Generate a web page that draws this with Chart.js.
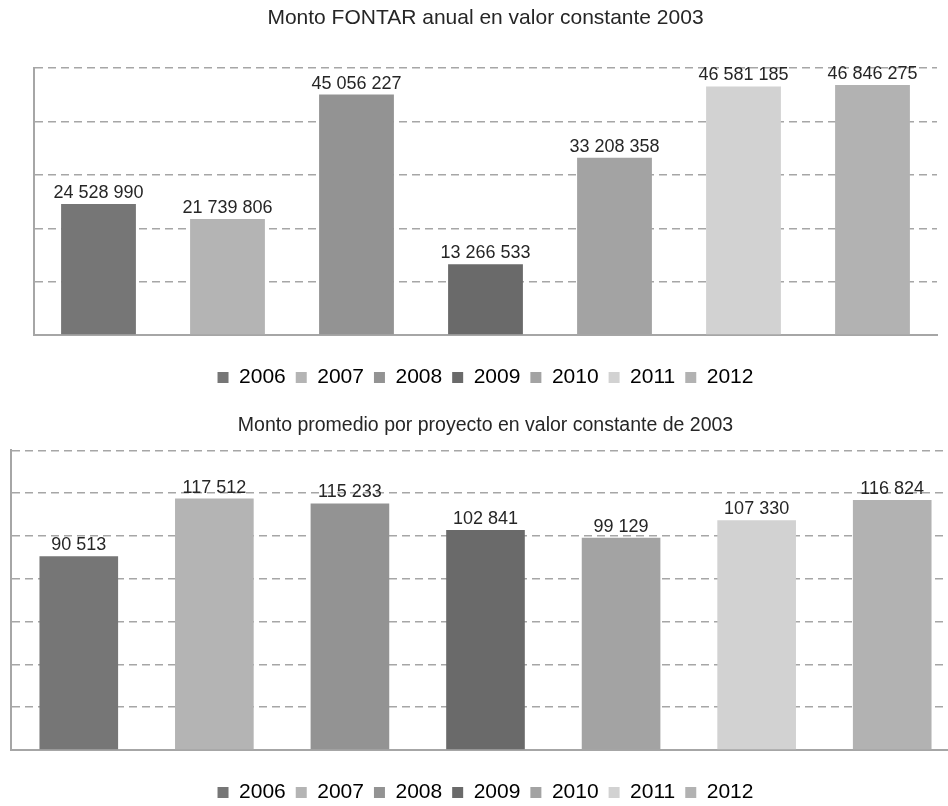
<!DOCTYPE html>
<html>
<head>
<meta charset="utf-8">
<script src="https://cdn.jsdelivr.net/npm/chart.js@4.4.0/dist/chart.umd.min.js"></script>
<style>
    body { margin: 0; background: #fff; overflow: hidden; width: 948px; height: 806px; position: relative; }
    #box-anual { position: absolute; left: 0; top: 0; }
    #box-promedio { position: absolute; left: 0; top: 400px; }
</style>
</head>
<body>
<div id="box-anual"><canvas id="anual-chart" width="948" height="398"></canvas></div>
<div id="box-promedio"><canvas id="promedio-chart" width="960" height="413"></canvas></div>
<script>
// 年份
const years = ['2006', '2007', '2008', '2009', '2010', '2011', '2012'];
// 每年颜色
const barColors = ['#767676', '#b4b4b4', '#939393', '#6a6a6a', '#a3a3a3', '#d2d2d2', '#b2b2b2'];
// 年度金额
const montoAnual = [24528990, 21739806, 45056227, 13266533, 33208358, 46581185, 46846275];
// 项目平均金额
const montoPromedio = [90513, 117512, 115233, 102841, 99129, 107330, 116824];
// 刻度
const anualTicks = [0, 10000000, 20000000, 30000000, 40000000, 50000000];
const promedioTicks = [0, 20000, 40000, 60000, 80000, 100000, 120000, 140000];

const FONT = '"Liberation Sans", Arial, sans-serif';
const GRAY = '#a6a6a6';

// 千位用空格分隔
function formatNumber(v) {
    return String(v).replace(/\B(?=(\d{3})+(?!\d))/g, ' ');
}

// 柱顶数值标签
const barLabelPlugin = {
    id: 'barLabels',
    afterDatasetsDraw(chart) {
        const ctx = chart.ctx;
        const data = chart.data.datasets[0].data;
        ctx.save();
        ctx.font = '18px ' + FONT;
        ctx.fillStyle = '#262626';
        ctx.textAlign = 'center';
        ctx.textBaseline = 'alphabetic';
        chart.getDatasetMeta(0).data.forEach((bar, i) => {
            ctx.fillText(formatNumber(data[i]), bar.x, bar.y - 6);
        });
        ctx.restore();
    }
};

// 渲染柱状图
function renderBarChart(canvasId, values, ticks, titleText, opt) {
    const ctx = document.getElementById(canvasId).getContext('2d');
    new Chart(ctx, {
        type: 'bar',
        data: {
            labels: years,
            datasets: [{
                data: values,
                backgroundColor: barColors,
                borderWidth: 0,
                barPercentage: 0.58,
                categoryPercentage: 1
            }]
        },
        options: {
            responsive: false,
            animation: false,
            devicePixelRatio: 1,
            layout: {
                padding: { left: opt.padLeft, right: opt.padRight, top: 0, bottom: 0 }
            },
            scales: {
                x: {
                    ticks: { display: false },
                    grid: { color: 'transparent', drawTicks: true, tickLength: 22 },
                    border: { display: true, color: GRAY, width: 2 }
                },
                y: {
                    min: ticks[0],
                    max: ticks[ticks.length - 1],
                    ticks: { display: false, stepSize: ticks[1] - ticks[0] },
                    grid: { color: GRAY, lineWidth: 1.5, drawTicks: false },
                    border: { display: true, color: GRAY, width: 2, dash: [8, 5] }
                }
            },
            plugins: {
                tooltip: { enabled: false },
                title: {
                    display: true,
                    text: titleText,
                    color: '#262626',
                    font: { family: FONT, size: opt.titleSize, weight: 'normal' },
                    padding: { top: opt.titleTop, bottom: opt.titleBottom }
                },
                legend: {
                    display: true,
                    position: 'bottom',
                    labels: {
                        boxWidth: 11,
                        boxHeight: 11,
                        padding: 10,
                        color: '#262626',
                        font: { family: FONT, size: 21 },
                        generateLabels: () => years.map((y, i) => ({
                            text: y,
                            fillStyle: barColors[i],
                            strokeStyle: barColors[i],
                            lineWidth: 0,
                            hidden: false,
                            index: i
                        }))
                    }
                }
            }
        },
        plugins: [barLabelPlugin]
    });
}

// 初始化
function initCharts() {
    renderBarChart('anual-chart', montoAnual, anualTicks,
        'Monto FONTAR anual en valor constante 2003',
        { padLeft: 34, padRight: 11, titleSize: 21, titleTop: 6, titleBottom: 37 });
    renderBarChart('promedio-chart', montoPromedio, promedioTicks,
        'Monto promedio por proyecto en valor constante de 2003',
        { padLeft: 11, padRight: 0, titleSize: 19.5, titleTop: 14, titleBottom: 13 });
}

initCharts();
</script>
</body>
</html>
